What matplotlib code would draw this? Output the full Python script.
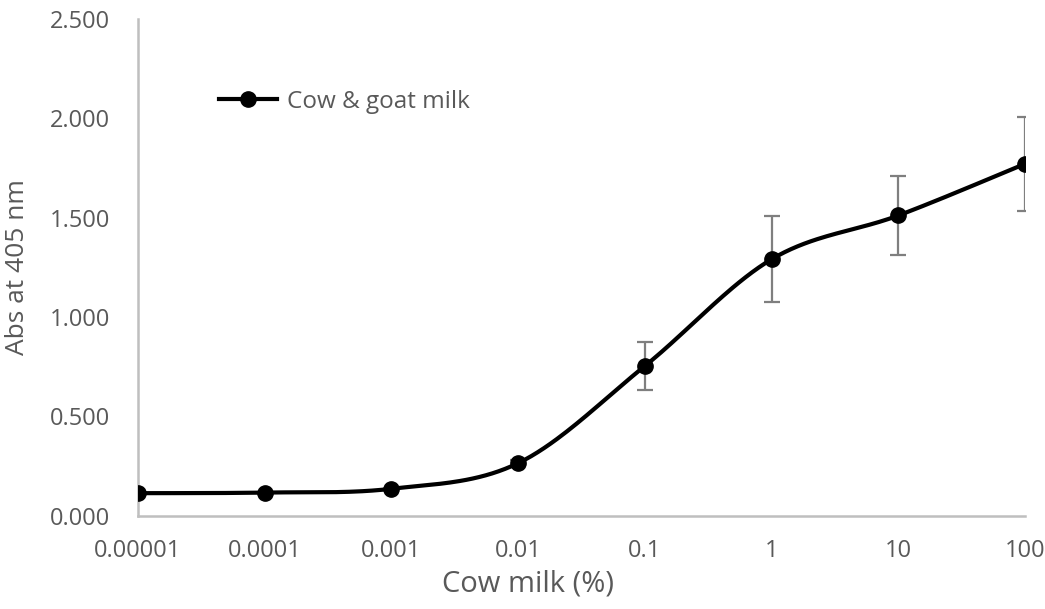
import numpy as np
import matplotlib.pyplot as plt
from matplotlib.lines import Line2D

plt.rcParams["font.family"] = ["Open Sans", "DejaVu Sans"]

# dilution series (category axis, evenly spaced)
concentrations = ["0.00001", "0.0001", "0.001", "0.01", "0.1", "1", "10", "100"]
absorbance = [0.114, 0.117, 0.136, 0.265, 0.754, 1.291, 1.511, 1.771]
abs_error = [0.0, 0.0, 0.0, 0.015, 0.12, 0.215, 0.197, 0.236]

label_color = "#595959"
axis_color = "#bfbfbf"


def smooth_curve(x, y, steps=40):
    # Bezier smoothing through every point (Catmull-Rom style control points)
    x = np.asarray(x, dtype=float)
    y = np.asarray(y, dtype=float)
    px = np.concatenate([[x[0]], x, [x[-1]]])
    py = np.concatenate([[y[0]], y, [y[-1]]])
    xs, ys = [], []
    t = np.linspace(0, 1, steps)
    for i in range(1, len(px) - 2):
        p0 = np.array([px[i], py[i]])
        p3 = np.array([px[i + 1], py[i + 1]])
        c1 = p0 + (np.array([px[i + 1], py[i + 1]]) - np.array([px[i - 1], py[i - 1]])) / 6
        c2 = p3 - (np.array([px[i + 2], py[i + 2]]) - np.array([px[i], py[i]])) / 6
        b = ((1 - t) ** 3)[:, None] * p0 + (3 * (1 - t) ** 2 * t)[:, None] * c1 \
            + (3 * (1 - t) * t ** 2)[:, None] * c2 + (t ** 3)[:, None] * p3
        xs.append(b[:, 0])
        ys.append(b[:, 1])
    return np.concatenate(xs), np.concatenate(ys)


fig = plt.figure(figsize=(10.45, 6.09), dpi=100)
ax = fig.add_axes([0.132, 0.153, 0.849, 0.816])

x_pos = np.arange(len(concentrations))

ax.errorbar(x_pos, absorbance, yerr=abs_error, fmt="none", ecolor="#7f7f7f",
            elinewidth=1.6, capsize=6, capthick=1.6, zorder=2)
sx, sy = smooth_curve(x_pos, absorbance)
ax.plot(sx, sy, color="black", linewidth=3, zorder=3, solid_capstyle="round")
ax.plot(x_pos, absorbance, "o", color="black", markersize=11, zorder=4)

ax.set_xlim(0, len(concentrations) - 1)
ax.set_ylim(0, 2.5)
ax.set_xticks(x_pos)
ax.set_xticklabels(concentrations)
ax.set_yticks(np.arange(0, 2.51, 0.5))
ax.set_yticklabels([f"{v:.3f}" for v in np.arange(0, 2.51, 0.5)])
ax.tick_params(axis="both", length=0, labelsize=17, labelcolor=label_color)
ax.tick_params(axis="x", pad=17)
ax.tick_params(axis="y", pad=20)

for side in ["top", "right"]:
    ax.spines[side].set_visible(False)
for side in ["left", "bottom"]:
    ax.spines[side].set_color(axis_color)
    ax.spines[side].set_linewidth(1.8)

ax.set_xlabel("Cow milk (%)", fontsize=21, color=label_color)
ax.xaxis.set_label_coords(0.44, -0.108)
ax.set_ylabel("Abs at 405 nm", fontsize=19, color=label_color, labelpad=14)

handle = Line2D([], [], color="black", linewidth=3, marker="o", markersize=11)
ax.legend([handle], ["Cow & goat milk"], loc="center left",
          bbox_to_anchor=(0.091, 0.833), frameon=False, fontsize=17.5,
          handlelength=2.4, handletextpad=0.4, borderpad=0, borderaxespad=0,
          labelcolor=label_color)

fig.savefig("out.png", dpi=100)
plt.close(fig)
